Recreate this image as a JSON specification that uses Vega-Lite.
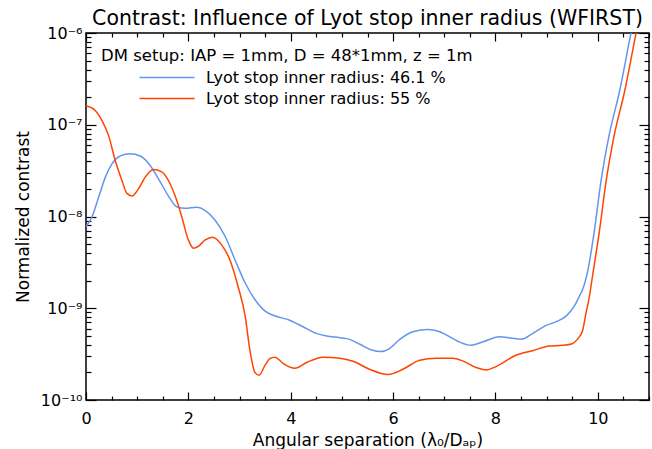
{
  "$schema": "https://vega.github.io/schema/vega-lite/v6.json",
  "autosize": {"type": "none"},
  "width": 563,
  "height": 367,
  "padding": {"left": 86, "top": 33, "right": 3, "bottom": 49},
  "background": "white",
  "title": {"text": "Contrast: Influence of Lyot stop inner radius (WFIRST)", "font": "DejaVu Sans", "fontSize": 20.5, "fontWeight": "normal", "color": "black", "offset": -4},
  "config": {
    "view": {"stroke": "black", "strokeWidth": 1.5},
    "axis": {"labelFont": "DejaVu Sans", "labelFontSize": 16, "labelColor": "black", "tickColor": "black", "tickWidth": 1.2, "titleFont": "DejaVu Sans", "titleFontSize": 17, "titleFontWeight": "normal", "titleColor": "black", "domain": false, "grid": false, "labelOverlap": false, "labelFlush": false, "labelBound": false},
    "legend": {"labelFont": "DejaVu Sans", "labelFontSize": 16, "labelColor": "black", "titleFont": "DejaVu Sans", "titleFontSize": 16.5, "titleFontWeight": "normal", "titleColor": "black"}
  },
  "data": {"values": [
    {"series": "46.1 %", "x": 0, "y": 7.76e-9},
    {"series": "46.1 %", "x": 0.12, "y": 1.0e-8},
    {"series": "46.1 %", "x": 0.25, "y": 1.641e-8},
    {"series": "46.1 %", "x": 0.38, "y": 2.704e-8},
    {"series": "46.1 %", "x": 0.51, "y": 3.776e-8},
    {"series": "46.1 %", "x": 0.67, "y": 4.571e-8},
    {"series": "46.1 %", "x": 0.86, "y": 4.842e-8},
    {"series": "46.1 %", "x": 1.06, "y": 4.571e-8},
    {"series": "46.1 %", "x": 1.25, "y": 3.622e-8},
    {"series": "46.1 %", "x": 1.45, "y": 2.388e-8},
    {"series": "46.1 %", "x": 1.64, "y": 1.574e-8},
    {"series": "46.1 %", "x": 1.77, "y": 1.279e-8},
    {"series": "46.1 %", "x": 1.94, "y": 1.227e-8},
    {"series": "46.1 %", "x": 2.16, "y": 1.259e-8},
    {"series": "46.1 %", "x": 2.33, "y": 1.159e-8},
    {"series": "46.1 %", "x": 2.52, "y": 9.16e-9},
    {"series": "46.1 %", "x": 2.72, "y": 6.05e-9},
    {"series": "46.1 %", "x": 2.91, "y": 3.38e-9},
    {"series": "46.1 %", "x": 3.11, "y": 1.884e-9},
    {"series": "46.1 %", "x": 3.30, "y": 1.245e-9},
    {"series": "46.1 %", "x": 3.50, "y": 9.29e-10},
    {"series": "46.1 %", "x": 3.70, "y": 8.22e-10},
    {"series": "46.1 %", "x": 3.98, "y": 7.41e-10},
    {"series": "46.1 %", "x": 4.24, "y": 6.28e-10},
    {"series": "46.1 %", "x": 4.50, "y": 5.32e-10},
    {"series": "46.1 %", "x": 4.70, "y": 4.98e-10},
    {"series": "46.1 %", "x": 4.96, "y": 4.78e-10},
    {"series": "46.1 %", "x": 5.15, "y": 4.58e-10},
    {"series": "46.1 %", "x": 5.35, "y": 4.05e-10},
    {"series": "46.1 %", "x": 5.58, "y": 3.51e-10},
    {"series": "46.1 %", "x": 5.77, "y": 3.37e-10},
    {"series": "46.1 %", "x": 5.93, "y": 3.63e-10},
    {"series": "46.1 %", "x": 6.13, "y": 4.58e-10},
    {"series": "46.1 %", "x": 6.39, "y": 5.55e-10},
    {"series": "46.1 %", "x": 6.68, "y": 5.87e-10},
    {"series": "46.1 %", "x": 6.91, "y": 5.55e-10},
    {"series": "46.1 %", "x": 7.17, "y": 4.66e-10},
    {"series": "46.1 %", "x": 7.30, "y": 4.27e-10},
    {"series": "46.1 %", "x": 7.52, "y": 3.94e-10},
    {"series": "46.1 %", "x": 7.75, "y": 4.29e-10},
    {"series": "46.1 %", "x": 8.08, "y": 4.90e-10},
    {"series": "46.1 %", "x": 8.30, "y": 4.73e-10},
    {"series": "46.1 %", "x": 8.50, "y": 4.58e-10},
    {"series": "46.1 %", "x": 8.73, "y": 5.32e-10},
    {"series": "46.1 %", "x": 8.99, "y": 6.50e-10},
    {"series": "46.1 %", "x": 9.18, "y": 7.11e-10},
    {"series": "46.1 %", "x": 9.38, "y": 8.20e-10},
    {"series": "46.1 %", "x": 9.54, "y": 1.052e-9},
    {"series": "46.1 %", "x": 9.64, "y": 1.352e-9},
    {"series": "46.1 %", "x": 9.70, "y": 1.585e-9},
    {"series": "46.1 %", "x": 9.80, "y": 2.512e-9},
    {"series": "46.1 %", "x": 9.93, "y": 6.84e-9},
    {"series": "46.1 %", "x": 10.06, "y": 2.382e-8},
    {"series": "46.1 %", "x": 10.22, "y": 7.66e-8},
    {"series": "46.1 %", "x": 10.42, "y": 2.259e-7},
    {"series": "46.1 %", "x": 10.64, "y": 9.46e-7},
    {"series": "46.1 %", "x": 10.66, "y": 1.072e-6},
    {"series": "55 %", "x": 0, "y": 1.607e-7},
    {"series": "55 %", "x": 0.18, "y": 1.429e-7},
    {"series": "55 %", "x": 0.31, "y": 1.114e-7},
    {"series": "55 %", "x": 0.44, "y": 7.66e-8},
    {"series": "55 %", "x": 0.57, "y": 4.10e-8},
    {"series": "55 %", "x": 0.70, "y": 2.489e-8},
    {"series": "55 %", "x": 0.80, "y": 1.786e-8},
    {"series": "55 %", "x": 0.90, "y": 1.671e-8},
    {"series": "55 %", "x": 1.03, "y": 2.023e-8},
    {"series": "55 %", "x": 1.16, "y": 2.704e-8},
    {"series": "55 %", "x": 1.32, "y": 3.251e-8},
    {"series": "55 %", "x": 1.48, "y": 3.069e-8},
    {"series": "55 %", "x": 1.64, "y": 2.291e-8},
    {"series": "55 %", "x": 1.77, "y": 1.510e-8},
    {"series": "55 %", "x": 1.87, "y": 9.98e-9},
    {"series": "55 %", "x": 2.00, "y": 5.56e-9},
    {"series": "55 %", "x": 2.10, "y": 4.52e-9},
    {"series": "55 %", "x": 2.19, "y": 4.71e-9},
    {"series": "55 %", "x": 2.33, "y": 5.56e-9},
    {"series": "55 %", "x": 2.47, "y": 5.94e-9},
    {"series": "55 %", "x": 2.65, "y": 4.91e-9},
    {"series": "55 %", "x": 2.81, "y": 3.38e-9},
    {"series": "55 %", "x": 2.97, "y": 1.734e-9},
    {"series": "55 %", "x": 3.11, "y": 8.20e-10},
    {"series": "55 %", "x": 3.20, "y": 3.56e-10},
    {"series": "55 %", "x": 3.30, "y": 2.00e-10},
    {"series": "55 %", "x": 3.38, "y": 1.862e-10},
    {"series": "55 %", "x": 3.50, "y": 2.399e-10},
    {"series": "55 %", "x": 3.59, "y": 2.818e-10},
    {"series": "55 %", "x": 3.69, "y": 2.924e-10},
    {"series": "55 %", "x": 3.85, "y": 2.512e-10},
    {"series": "55 %", "x": 4.08, "y": 2.218e-10},
    {"series": "55 %", "x": 4.31, "y": 2.559e-10},
    {"series": "55 %", "x": 4.63, "y": 2.924e-10},
    {"series": "55 %", "x": 4.96, "y": 2.851e-10},
    {"series": "55 %", "x": 5.22, "y": 2.642e-10},
    {"series": "55 %", "x": 5.54, "y": 2.163e-10},
    {"series": "55 %", "x": 5.90, "y": 1.897e-10},
    {"series": "55 %", "x": 6.19, "y": 2.163e-10},
    {"series": "55 %", "x": 6.52, "y": 2.710e-10},
    {"series": "55 %", "x": 6.84, "y": 2.851e-10},
    {"series": "55 %", "x": 7.17, "y": 2.851e-10},
    {"series": "55 %", "x": 7.36, "y": 2.667e-10},
    {"series": "55 %", "x": 7.62, "y": 2.259e-10},
    {"series": "55 %", "x": 7.82, "y": 2.128e-10},
    {"series": "55 %", "x": 8.01, "y": 2.312e-10},
    {"series": "55 %", "x": 8.40, "y": 3.069e-10},
    {"series": "55 %", "x": 8.73, "y": 3.45e-10},
    {"series": "55 %", "x": 9.05, "y": 3.87e-10},
    {"series": "55 %", "x": 9.31, "y": 3.94e-10},
    {"series": "55 %", "x": 9.50, "y": 4.11e-10},
    {"series": "55 %", "x": 9.60, "y": 4.58e-10},
    {"series": "55 %", "x": 9.70, "y": 5.64e-10},
    {"series": "55 %", "x": 9.77, "y": 8.91e-10},
    {"series": "55 %", "x": 9.82, "y": 1.202e-9},
    {"series": "55 %", "x": 9.91, "y": 2.512e-9},
    {"series": "55 %", "x": 10.03, "y": 6.84e-9},
    {"series": "55 %", "x": 10.16, "y": 2.382e-8},
    {"series": "55 %", "x": 10.32, "y": 7.66e-8},
    {"series": "55 %", "x": 10.52, "y": 2.259e-7},
    {"series": "55 %", "x": 10.74, "y": 9.46e-7},
    {"series": "55 %", "x": 10.76, "y": 1.072e-6}
  ]},
  "resolve": {"axis": {"x": "independent", "y": "independent"}},
  "layer": [
    {
      "mark": {"type": "line", "clip": true, "strokeWidth": 1.5, "interpolate": "monotone"},
      "encoding": {
        "x": {"field": "x", "type": "quantitative",
          "scale": {"domain": [0, 11], "nice": false, "zero": false},
          "axis": {"orient": "bottom", "title": "Angular separation (λ₀/Dₐₚ)", "titlePadding": 2,
            "values": [0,0.5,1,1.5,2,2.5,3,3.5,4,4.5,5,5.5,6,6.5,7,7.5,8,8.5,9,9.5,10,10.5,11],
            "labelExpr": "datum.value % 2 == 0 && datum.value < 11 ? format(datum.value, 'd') : ''",
            "tickSize": {"condition": {"test": "datum.value % 2 == 0", "value": -8}, "value": -4},
            "labelPadding": 18}},
        "y": {"field": "y", "type": "quantitative",
          "scale": {"type": "log", "domain": [1e-10, 1e-6], "nice": false},
          "axis": {"orient": "left", "title": "Normalized contrast", "titlePadding": 8,
            "values": [1e-10,2e-10,3e-10,4e-10,5e-10,6e-10,7e-10,8e-10,9e-10,1e-9,2e-9,3e-9,4e-9,5e-9,6e-9,7e-9,8e-9,9e-9,1e-8,2e-8,3e-8,4e-8,5e-8,6e-8,7e-8,8e-8,9e-8,1e-7,2e-7,3e-7,4e-7,5e-7,6e-7,7e-7,8e-7,9e-7,1e-6],
            "labelExpr": "abs(log(datum.value)/LN10 - round(log(datum.value)/LN10)) < 1e-6 ? '10' + ['⁻⁶','⁻⁷','⁻⁸','⁻⁹','⁻¹⁰'][-6 - round(log(datum.value)/LN10)] : ''",
            "tickSize": {"condition": {"test": "abs(log(datum.value)/LN10 - round(log(datum.value)/LN10)) < 1e-6", "value": -10}, "value": -5},
            "labelPadding": 14}},
        "color": {"field": "series", "type": "nominal",
          "scale": {"domain": ["46.1 %", "55 %"], "range": ["#6495ED", "#FF4500"]},
          "legend": {"orient": "none", "legendX": 15, "legendY": 15, "title": "DM setup: IAP = 1mm, D = 48*1mm, z = 1m",
            "labelExpr": "'Lyot stop inner radius: ' + datum.label",
            "symbolType": "M-5,0H5", "symbolSize": 121, "symbolStrokeWidth": 1.5, "symbolOffset": 58,
            "labelOffset": 31, "rowPadding": 5, "titlePadding": 5, "padding": 0, "labelLimit": 400, "titleLimit": 500}}
      }
    },
    {
      "mark": {"type": "line", "clip": true, "strokeOpacity": 0, "interpolate": "monotone"},
      "encoding": {
        "detail": {"field": "series"},
        "x": {"field": "x", "type": "quantitative",
          "axis": {"orient": "top", "title": null, "labels": false,
            "values": [0,0.5,1,1.5,2,2.5,3,3.5,4,4.5,5,5.5,6,6.5,7,7.5,8,8.5,9,9.5,10,10.5,11],
            "tickSize": {"condition": {"test": "datum.value % 2 == 0", "value": -8}, "value": -4}}},
        "y": {"field": "y", "type": "quantitative",
          "axis": {"orient": "right", "title": null, "labels": false,
            "values": [1e-10,2e-10,3e-10,4e-10,5e-10,6e-10,7e-10,8e-10,9e-10,1e-9,2e-9,3e-9,4e-9,5e-9,6e-9,7e-9,8e-9,9e-9,1e-8,2e-8,3e-8,4e-8,5e-8,6e-8,7e-8,8e-8,9e-8,1e-7,2e-7,3e-7,4e-7,5e-7,6e-7,7e-7,8e-7,9e-7,1e-6],
            "tickSize": {"condition": {"test": "abs(log(datum.value)/LN10 - round(log(datum.value)/LN10)) < 1e-6", "value": -10}, "value": -5}}}
      }
    }
  ]
}
